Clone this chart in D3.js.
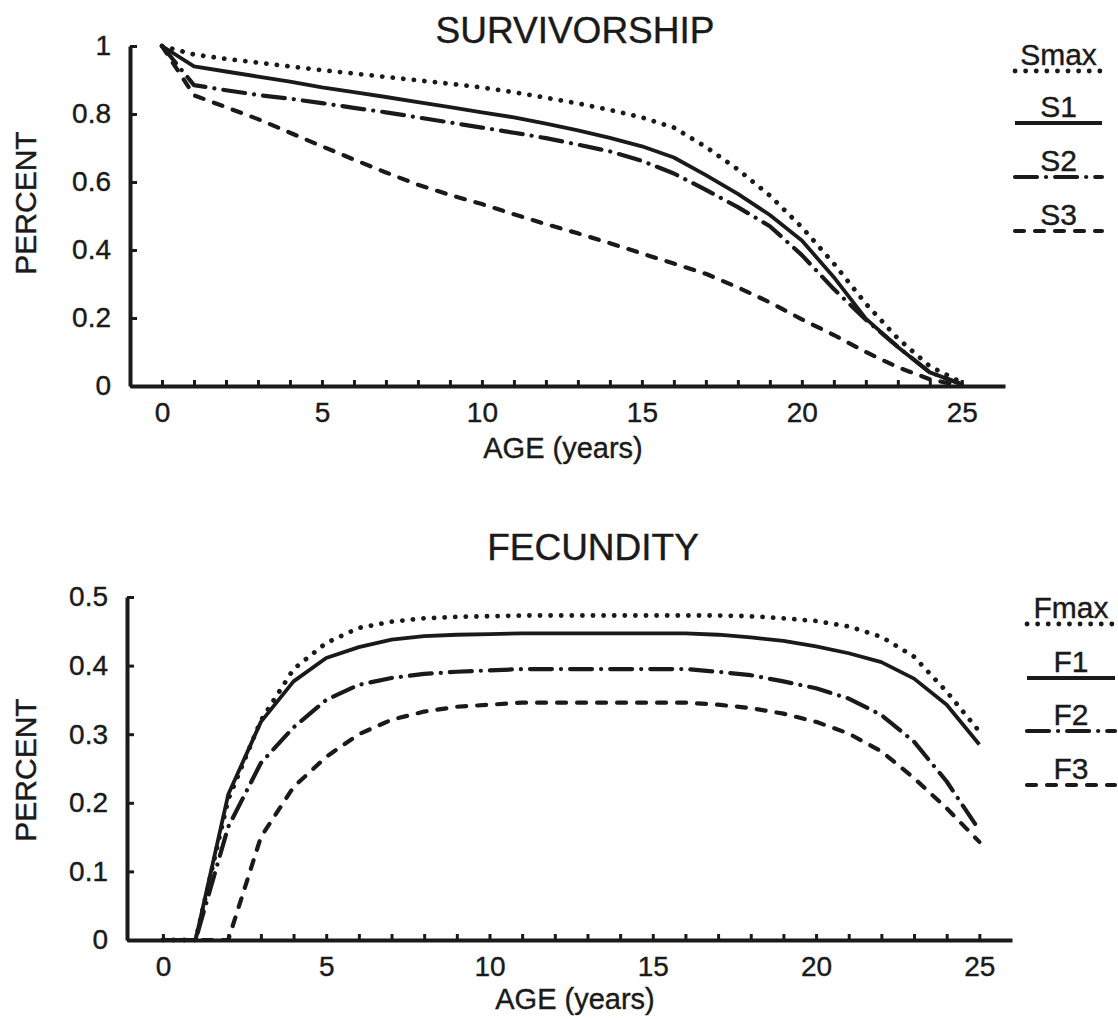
<!DOCTYPE html>
<html>
<head>
<meta charset="utf-8">
<script src="https://cdn.jsdelivr.net/npm/d3@7"></script>
<style>
body{margin:0;background:#fff;}
text{font-family:"Liberation Sans",Arial,Helvetica,sans-serif;fill:#1a1a1a;stroke:#1a1a1a;stroke-width:0.4px;}
</style>
</head>
<body>
<svg id="chart" width="1118" height="1019"></svg>
<script>

// edades (anios)
var ages=[0,1,2,3,4,5,6,7,8,9,10,11,12,13,14,15,16,17,18,19,20,21,22,23,24,25];

// supervivencia
var survMax=[1.0,0.975,0.962,0.951,0.94,0.929,0.919,0.909,0.899,0.889,0.878,0.864,0.848,0.831,0.812,0.79,0.76,0.703,0.637,0.56,0.467,0.36,0.242,0.14,0.058,0.01];
var surv1=[1.0,0.94,0.925,0.91,0.895,0.878,0.864,0.85,0.835,0.82,0.805,0.79,0.772,0.752,0.73,0.705,0.672,0.62,0.565,0.503,0.428,0.32,0.198,0.115,0.04,0.005];
var surv2=[1.0,0.885,0.87,0.856,0.845,0.832,0.818,0.805,0.79,0.775,0.76,0.745,0.729,0.71,0.69,0.662,0.625,0.577,0.526,0.47,0.385,0.285,0.195,0.115,0.04,0.005];
var surv3=[1.0,0.855,0.82,0.785,0.745,0.705,0.666,0.628,0.592,0.562,0.535,0.505,0.476,0.449,0.42,0.39,0.36,0.33,0.29,0.246,0.196,0.15,0.1,0.055,0.02,0.0];

// fecundidad
var fecMax=[0,0,0.205,0.32,0.395,0.433,0.455,0.464,0.469,0.471,0.472,0.473,0.473,0.473,0.473,0.473,0.473,0.473,0.472,0.469,0.465,0.457,0.442,0.413,0.362,0.304];
var fec1=[0,0,0.212,0.318,0.377,0.411,0.427,0.438,0.443,0.445,0.446,0.447,0.447,0.447,0.447,0.447,0.447,0.445,0.441,0.436,0.428,0.418,0.405,0.381,0.343,0.285];
var fec2=[0,0,0.165,0.258,0.31,0.35,0.372,0.382,0.388,0.391,0.393,0.395,0.395,0.395,0.395,0.395,0.395,0.391,0.386,0.377,0.367,0.352,0.328,0.289,0.231,0.16];
var fec3=[0,0,0,0.15,0.223,0.267,0.3,0.321,0.333,0.34,0.343,0.346,0.346,0.346,0.346,0.346,0.346,0.343,0.338,0.33,0.318,0.301,0.275,0.236,0.192,0.143];

var survTicks=[0,0.2,0.4,0.6,0.8,1];
var fecTicks=[0,0.1,0.2,0.3,0.4,0.5];
var xLabels=[0,5,10,15,20,25];
var survNames=["Smax","S1","S2","S3"];
var fecNames=["Fmax","F1","F2","F3"];

var tinta="#1a1a1a";

// dotted, solid, dash-dot, dashed
var estilos=[
    {dash:"0.1 10.5",width:4.8,cap:"round"},
    {dash:null,width:3.8,cap:"butt"},
    {dash:"22 9 0.1 9",width:4.2,cap:"round"},
    {dash:"9 11",width:4.2,cap:"round"}
];

var svg=d3.select("#chart");

function drawPanel(cfg){

    var x=d3.scaleLinear().domain(cfg.xDomain).range(cfg.xRange);
    var y=d3.scaleLinear().domain(cfg.yDomain).range(cfg.yRange);

    var g=svg.append("g");

    // eje x
    var ax=g.append("g")
        .attr("transform","translate(0,"+cfg.yRange[0]+")")
        .call(d3.axisBottom(x)
            .tickValues(ages)
            .tickSize(-6)
            .tickSizeOuter(0)
            .tickPadding(16)
            .tickFormat(function(d){ return xLabels.indexOf(d)>=0 ? String(d) : ""; }));
    ax.select(".domain").attr("stroke",tinta).attr("stroke-width",4);
    ax.selectAll(".tick line").attr("stroke",tinta).attr("stroke-width",3);
    ax.selectAll(".tick text").style("font-size","28px").style("fill",tinta);

    // eje y
    var ay=g.append("g")
        .attr("transform","translate("+cfg.xRange[0]+",0)")
        .call(d3.axisLeft(y)
            .tickValues(cfg.yTicks)
            .tickSize(-7)
            .tickSizeOuter(0)
            .tickPadding(19)
            .tickFormat(d3.format("~g")));
    ay.select(".domain").attr("stroke",tinta).attr("stroke-width",4);
    ay.selectAll(".tick line").attr("stroke",tinta).attr("stroke-width",3);
    ay.selectAll(".tick text").style("font-size","28px").style("fill",tinta);

    // curvas
    var linea=d3.line()
        .x(function(d){ return x(d.age); })
        .y(function(d){ return y(d.v); });

    cfg.series.forEach(function(vals,i){
        var pts=ages.map(function(a,j){ return {age:a,v:vals[j]}; });
        g.append("path")
            .datum(pts)
            .attr("d",linea)
            .attr("fill","none")
            .attr("stroke",tinta)
            .attr("stroke-width",estilos[i].width)
            .attr("stroke-linecap",estilos[i].cap)
            .attr("stroke-linejoin","round")
            .attr("stroke-dasharray",estilos[i].dash);
    });

    // titulos
    g.append("text")
        .attr("x",cfg.titleX).attr("y",cfg.titleY)
        .style("font-size","37px").style("text-anchor","middle")
        .text(cfg.title);

    g.append("text")
        .attr("x",cfg.ageX).attr("y",cfg.ageY)
        .style("font-size","29px").style("text-anchor","middle")
        .text("AGE (years)");

    g.append("text")
        .attr("transform","translate("+cfg.pctX+","+cfg.pctY+") rotate(-90)")
        .style("font-size","30px").style("text-anchor","middle")
        .text("PERCENT");

    // leyenda
    cfg.names.forEach(function(n,i){
        var ly=cfg.legendY[i];
        g.append("line")
            .attr("x1",cfg.legendX[0]).attr("x2",cfg.legendX[1])
            .attr("y1",ly).attr("y2",ly)
            .attr("stroke",tinta)
            .attr("stroke-width",estilos[i].width)
            .attr("stroke-linecap",estilos[i].cap)
            .attr("stroke-dasharray",estilos[i].dash);
        g.append("text")
            .attr("x",(cfg.legendX[0]+cfg.legendX[1])/2)
            .attr("y",ly-6)
            .style("font-size","30px").style("text-anchor","middle")
            .text(n);
    });
}

drawPanel({
    xDomain:[-1,26.35], xRange:[130,1005],
    yDomain:[0,1], yRange:[386,46],
    yTicks:survTicks,
    series:[survMax,surv1,surv2,surv3],
    names:survNames,
    title:"SURVIVORSHIP", titleX:575, titleY:43,
    ageX:563, ageY:458,
    pctX:36, pctY:203,
    legendX:[1015,1102], legendY:[71,123,177,231]
});

drawPanel({
    xDomain:[-1.1,26], xRange:[127,1012],
    yDomain:[0,0.5], yRange:[940,597],
    yTicks:fecTicks,
    series:[fecMax,fec1,fec2,fec3],
    names:fecNames,
    title:"FECUNDITY", titleX:593, titleY:560,
    ageX:575, ageY:1009,
    pctX:36, pctY:770,
    legendX:[1027,1115], legendY:[624,678,731,785]
});

</script>
</body>
</html>
